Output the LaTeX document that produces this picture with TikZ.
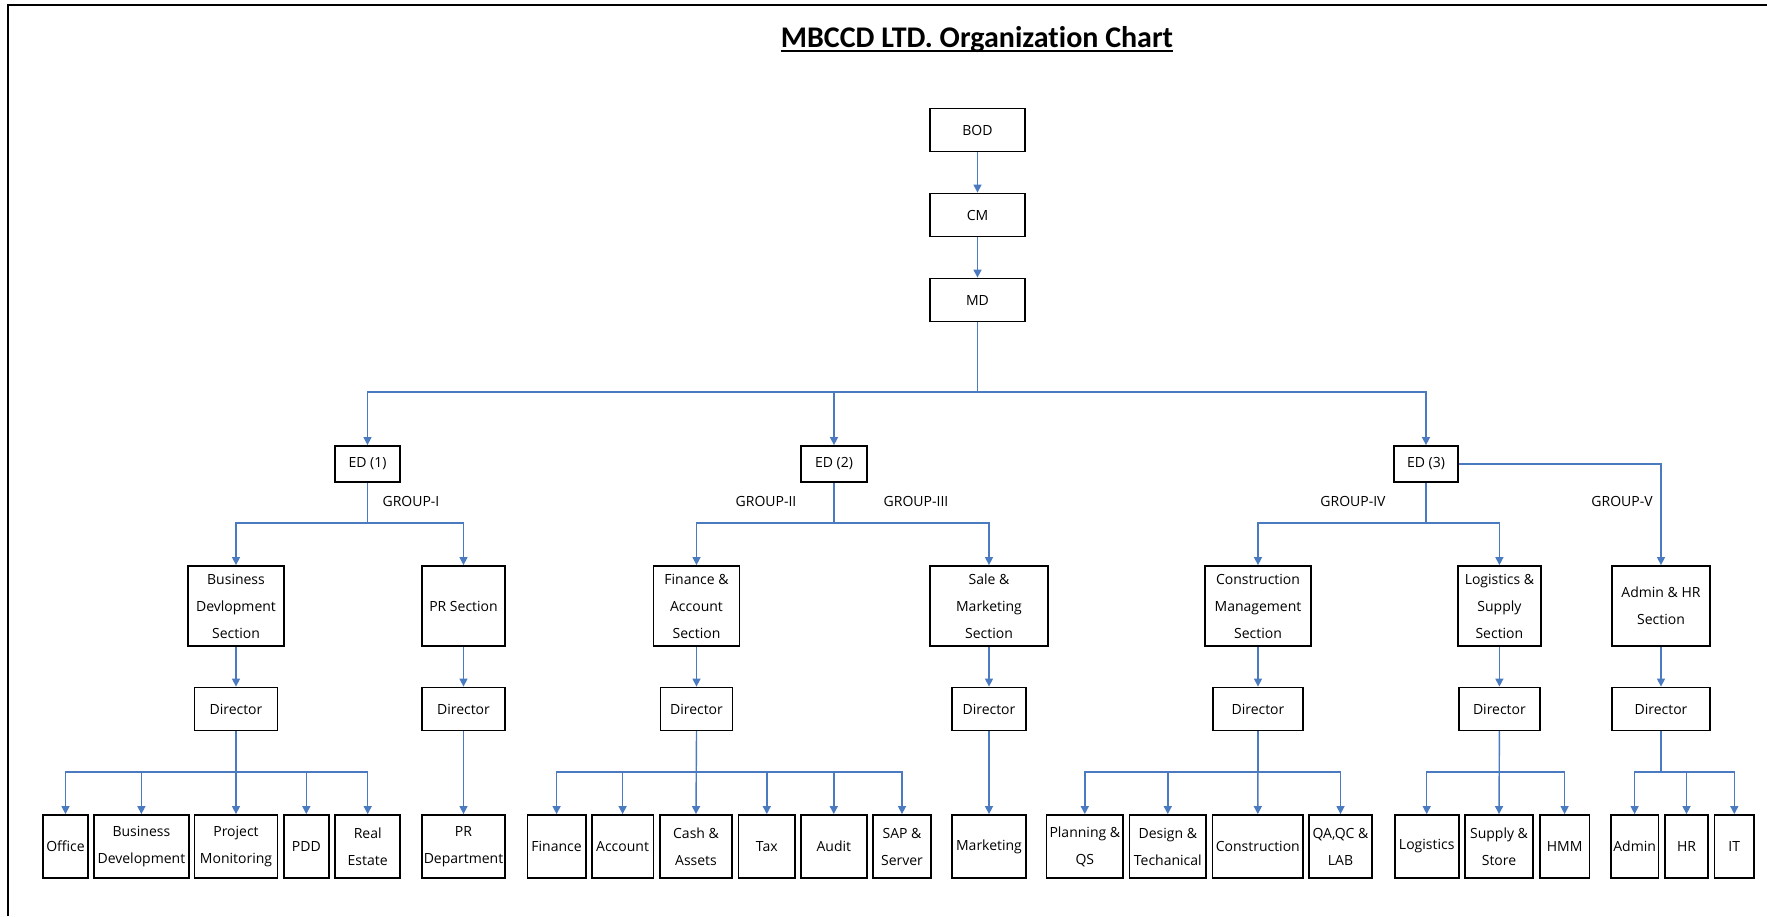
\documentclass[tikz,border=0pt]{standalone}
\usepackage{fontspec}
\setmainfont{Open Sans}
\newfontfamily\titlefont[Ligatures=NoCommon]{Carlito}
\usetikzlibrary{arrows.meta}

\definecolor{linkblue}{RGB}{74,122,192}

\begin{document}
\begin{tikzpicture}[x=1pt, y=-1pt,
  box/.style={draw, line width=1.8pt, fill=white, inner sep=0pt, align=center,
    font=\fontsize{14}{27}\selectfont},
  link/.style={draw=linkblue, line width=1.4pt, -{Triangle[width=8pt,length=8pt]}},
  grp/.style={inner sep=0pt, font=\fontsize{14}{17}\selectfont}]
  \useasboundingbox (0,0) rectangle (1767,916);
  \draw[line width=2.2pt] (8,916) -- (8,5) -- (1767,5);
  \node[inner sep=0pt, anchor=base, font={\titlefont\bfseries\fontsize{30}{36}\selectfont}]
    (T) at (977,47) {MBCCD LTD. Organization Chart};
  \draw[line width=1.8pt] ([yshift=-4pt]T.base west) -- ([yshift=-4pt]T.base east);
  \coordinate (busA) at (0,392);
  \coordinate (busB) at (0,523);
  \coordinate (busC) at (0,772);
  % top of the chart
  \node[box, minimum width=95, minimum height=43] (BOD) at (977.5,130) {BOD};
  \node[box, minimum width=95, minimum height=43] (CM)  at (977.5,215) {CM};
  \node[box, minimum width=95, minimum height=43] (MD)  at (977.5,300) {MD};
  \node[box, minimum width=65, minimum height=36] (ED1) at (367.5,464) {ED (1)};
  \node[box, minimum width=66, minimum height=36] (ED2) at (834,464)   {ED (2)};
  \node[box, minimum width=64, minimum height=36] (ED3) at (1426,464)  {ED (3)};
  \node[grp] (G1) at (411,501)  {GROUP-I};
  \node[grp] (G2) at (766,501)  {GROUP-II};
  \node[grp] (G3) at (916,501)  {GROUP-III};
  \node[grp] (G4) at (1353,501) {GROUP-IV};
  \node[grp] (G5) at (1622,501) {GROUP-V};
  % sections
  \node[box, minimum width=96.5, minimum height=80] (S1) at (236,606)    {Business\\Devlopment\\Section};
  \node[box, minimum width=83,   minimum height=80] (S2) at (463.5,606)  {PR Section};
  \node[box, minimum width=86,   minimum height=80] (S3) at (696.5,606)  {Finance \&\\Account\\Section};
  \node[box, minimum width=118,  minimum height=80] (S4) at (989,606)    {Sale \&\\Marketing\\Section};
  \node[box, minimum width=105.5,minimum height=80] (S5) at (1258,606)   {Construction\\Management\\Section};
  \node[box, minimum width=82.7, minimum height=80] (S6) at (1499.4,606) {Logistics \&\\Supply\\Section};
  \node[box, minimum width=98,   minimum height=80] (S7) at (1661,606)   {Admin \& HR\\Section};
  % directors
  \node[box, minimum width=83,   minimum height=43] (D1) at (236,709)    {Director};
  \node[box, minimum width=83,   minimum height=43] (D2) at (463.5,709)  {Director};
  \node[box, minimum width=72,   minimum height=43] (D3) at (696.5,709)  {Director};
  \node[box, minimum width=73.6, minimum height=43] (D4) at (989,709)    {Director};
  \node[box, minimum width=90.5, minimum height=43] (D5) at (1258,709)   {Director};
  \node[box, minimum width=81,   minimum height=43] (D6) at (1499.4,709) {Director};
  \node[box, minimum width=97.3, minimum height=43] (D7) at (1661,709)   {Director};
  % departments
  \node[box, minimum width=45,   minimum height=63] (office)  at (65.5,846.5)   {Office};
  \node[box, minimum width=94.7, minimum height=63] (bizdev)  at (141.4,846.5)  {Business\\Development};
  \node[box, minimum width=83,   minimum height=63] (projmon) at (236,846.5)    {Project\\Monitoring};
  \node[box, minimum width=45.4, minimum height=63] (pdd)     at (306.3,846.5)  {PDD};
  \node[box, minimum width=65.3, minimum height=63] (estate)  at (367.7,846.5)  {Real\\Estate};
  \node[box, minimum width=83,   minimum height=63] (prdept)  at (463.5,846.5)  {PR\\Department};
  \node[box, minimum width=58.2, minimum height=63] (fin)     at (556.6,846.5)  {Finance};
  \node[box, minimum width=61.8, minimum height=63] (acc)     at (622.6,846.5)  {Account};
  \node[box, minimum width=72,   minimum height=63] (cash)    at (696,846.5)    {Cash \&\\Assets};
  \node[box, minimum width=56.5, minimum height=63] (tax)     at (766.8,846.5)  {Tax};
  \node[box, minimum width=65.6, minimum height=63] (audit)   at (833.8,846.5)  {Audit};
  \node[box, minimum width=58,   minimum height=63] (sap)     at (902,846.5)    {SAP \&\\Server};
  \node[box, minimum width=73.5, minimum height=63] (mkt)     at (989,846.5)    {Marketing};
  \node[box, minimum width=76.5, minimum height=63] (plan)    at (1084.8,846.5) {Planning \&\\QS};
  \node[box, minimum width=76.5, minimum height=63] (design)  at (1167.8,846.5) {Design \&\\Techanical};
  \node[box, minimum width=90.5, minimum height=63] (constr)  at (1257.8,846.5) {Construction};
  \node[box, minimum width=63,   minimum height=63] (qaqc)    at (1340.5,846.5) {QA,QC \&\\LAB};
  \node[box, minimum width=64,   minimum height=63] (logi)    at (1426.7,846.5) {Logistics};
  \node[box, minimum width=68,   minimum height=63] (supply)  at (1499,846.5)   {Supply \&\\Store};
  \node[box, minimum width=49.6, minimum height=63] (hmm)     at (1564.6,846.5) {HMM};
  \node[box, minimum width=47.7, minimum height=63] (admin)   at (1634.6,846.5) {Admin};
  \node[box, minimum width=43,   minimum height=63] (hr)      at (1686.5,846.5) {HR};
  \node[box, minimum width=39.5, minimum height=63] (it)      at (1734.3,846.5) {IT};
  % connectors
  \draw[link] (BOD) -- (CM);
  \draw[link] (CM) -- (MD);
  \draw[link] (MD.south) -- (MD.south |- busA) -| (ED1.north);
  \draw[link] (MD.south) -- (MD.south |- busA) -| (ED2.north);
  \draw[link] (MD.south) -- (MD.south |- busA) -| (ED3.north);
  \draw[link] (ED1.south) -- (ED1.south |- busB) -| (S1.north);
  \draw[link] (ED1.south) -- (ED1.south |- busB) -| (S2.north);
  \draw[link] (ED2.south) -- (ED2.south |- busB) -| (S3.north);
  \draw[link] (ED2.south) -- (ED2.south |- busB) -| (S4.north);
  \draw[link] (ED3.south) -- (ED3.south |- busB) -| (S5.north);
  \draw[link] (ED3.south) -- (ED3.south |- busB) -| (S6.north);
  \draw[link] (ED3.east) -| (S7.north);
  \draw[link] (S1) -- (D1);
  \draw[link] (S2) -- (D2);
  \draw[link] (S3) -- (D3);
  \draw[link] (S4) -- (D4);
  \draw[link] (S5) -- (D5);
  \draw[link] (S6) -- (D6);
  \draw[link] (S7) -- (D7);
  \draw[link] (D1.south) -- (D1.south |- busC) -| (office.north);
  \draw[link] (D1.south) -- (D1.south |- busC) -| (bizdev.north);
  \draw[link] (D1.south) -- (projmon.north);
  \draw[link] (D1.south) -- (D1.south |- busC) -| (pdd.north);
  \draw[link] (D1.south) -- (D1.south |- busC) -| (estate.north);
  \draw[link] (D2.south) -- (prdept.north);
  \draw[link] (D3.south) -- (D3.south |- busC) -| (fin.north);
  \draw[link] (D3.south) -- (D3.south |- busC) -| (acc.north);
  \draw[link] (D3.south) -- (cash.north);
  \draw[link] (D3.south) -- (D3.south |- busC) -| (tax.north);
  \draw[link] (D3.south) -- (D3.south |- busC) -| (audit.north);
  \draw[link] (D3.south) -- (D3.south |- busC) -| (sap.north);
  \draw[link] (D4.south) -- (mkt.north);
  \draw[link] (D5.south) -- (D5.south |- busC) -| (plan.north);
  \draw[link] (D5.south) -- (D5.south |- busC) -| (design.north);
  \draw[link] (D5.south) -- (constr.north);
  \draw[link] (D5.south) -- (D5.south |- busC) -| (qaqc.north);
  \draw[link] (D6.south) -- (D6.south |- busC) -| (logi.north);
  \draw[link] (D6.south) -- (supply.north);
  \draw[link] (D6.south) -- (D6.south |- busC) -| (hmm.north);
  \draw[link] (D7.south) -- (D7.south |- busC) -| (admin.north);
  \draw[link] (D7.south) -- (D7.south |- busC) -| (hr.north);
  \draw[link] (D7.south) -- (D7.south |- busC) -| (it.north);
\end{tikzpicture}
\end{document}
